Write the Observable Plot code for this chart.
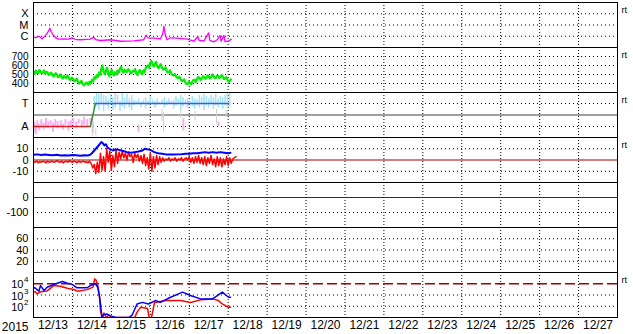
<!DOCTYPE html>
<html><head><meta charset="utf-8">
<script src="https://cdn.jsdelivr.net/npm/d3@7"></script>
<script src="https://cdn.jsdelivr.net/npm/@observablehq/plot@0.6"></script>
<style>
body{margin:0;background:#fff;}
#chart{position:relative;width:633px;height:334px;overflow:hidden;background:#fff;}
#chart svg{position:absolute;left:0;}
</style></head><body><div id="chart"></div>
<script>
// ---- time axis (days after 2015-12-13 00:00 UT) ----
const yearLabel = "2015";
const axisDays = d3.range(0, 15);            // 12/13 .. 12/27
const gridDays = d3.range(1, 15);            // midnight lines

// ---- panel 1: X-ray flux (W/m2) ----
const xrayDay  = [0,0.05,0.14,0.22,0.31,0.37,0.42,0.45,0.5,0.57,0.65,0.78,0.91,0.99,1.08,1.21,1.46,1.55,1.59,1.72,1.98,2.24,2.58,2.83,2.89,2.94,3.09,3.26,3.32,3.35,3.38,3.43,3.52,3.69,3.95,4.12,4.22,4.26,4.38,4.5,4.53,4.63,4.72,4.79,4.82,4.89,4.92,5.02,5.08];
const xrayFlux = [9.5e-7,7.3e-7,1.0e-6,5.9e-7,1.2e-6,2.3e-6,5.2e-6,2.8e-6,1.35e-6,7.3e-7,5.5e-7,5.9e-7,5.5e-7,7.3e-7,5.1e-7,4.9e-7,5.5e-7,8.3e-7,5.1e-7,4.2e-7,4.9e-7,3.6e-7,3.9e-7,4.9e-7,1.24e-6,7.3e-7,6.7e-7,5.9e-7,1.65e-6,7.4e-6,1.65e-6,4.9e-7,7.3e-7,6.7e-7,5.5e-7,3.6e-7,9.5e-7,4.2e-7,3.9e-7,2.0e-6,4.2e-7,3.2e-7,4.9e-7,1.2e-6,3.6e-7,1.2e-6,3.4e-7,3.9e-7,5.5e-7];
const xrayTicks = [1e-6, 1e-5, 1e-4];
const xrayLabels = ["C", "M", "X"];

// ---- panel 2: solar wind speed (km/s), 0.03-day cadence ----
const windStep = 0.03;
const windSpeed = [530,505,545,520,515,550,535,510,520,545,510,530,525,495,500,520,505,480,490,515,500,470,480,500,470,455,485,470,460,490,470,440,445,465,450,425,430,455,420,400,410,430,400,380,390,410,405,385,420,400,440,420,470,455,490,470,520,500,560,600,530,505,545,575,505,480,530,550,510,490,525,505,545,520,560,585,540,520,555,530,530,560,545,515,520,540,535,560,510,495,530,550,520,505,545,525,570,590,600,575,630,650,610,590,620,640,590,570,595,615,575,555,560,580,540,520,525,545,510,495,490,505,480,465,460,475,450,430,430,445,410,395,395,420,405,390,420,440,440,415,450,470,465,440,455,480,475,455,460,490,480,455,470,500,490,465,460,485,485,460,470,495,480,450,455,470,440,420,425,445];
const windTicks = [400, 500, 600, 700];

// ---- panel 3: IMF sector polarity ----
const polTicks = [1, -1];
const polLabels = ["T", "A"];
const polDay = [0, 1.46, 1.59, 5.01];
const polVal = [-1, -1, 1, 1];
const awayBars = [[0.02,-0.6,-1.5],[0.06,-0.9,-1.7],[0.1,-0.5,-1.2],[0.15,-0.8,-1.4],[0.2,-0.4,-1.0],[0.26,-0.7,-1.3],[0.32,-0.3,-1.1],[0.38,-0.6,-1.2],[0.44,-0.5,-0.9],[0.5,-0.7,-1.5],[0.56,-0.4,-1.0],[0.62,-0.6,-1.2],[0.7,-0.5,-1.1],[0.76,-0.8,-1.3],[0.82,-0.4,-0.9],[0.9,-0.6,-1.4],[0.96,-0.5,-1.0],[1.02,-0.3,-0.9],[1.1,-0.6,-1.2],[1.16,-0.4,-0.8],[1.24,-0.5,-1.1],[1.3,-0.2,-0.9],[1.38,-0.4,-1.0],[1.46,-0.3,-0.8],[1.52,-0.6,-1.6],[2.7,-0.9,-1.5],[3.85,-0.3,-1.4],[4.75,-0.6,-1.0]];
const towardBars = [[1.56,0.5,1.6],[1.62,0.7,1.9],[1.68,0.4,1.8],[1.74,0.9,1.9],[1.80,0.3,1.7],[1.86,0.8,1.6],[1.92,0.5,1.3],[1.98,1.1,1.8],[2.04,0.4,1.5],[2.10,0.6,1.9],[2.16,0.9,1.7],[2.22,0.3,1.2],[2.28,0.7,1.9],[2.34,0.5,1.5],[2.40,1.0,1.8],[2.46,0.6,1.4],[2.52,0.4,1.7],[2.58,0.8,1.3],[2.64,1.0,1.2],[2.70,0.9,1.4],[2.76,0.6,1.1],[2.82,1.0,1.3],[2.88,0.5,1.5],[2.94,0.8,1.2],[3.00,0.9,1.6],[3.06,1.0,1.3],[3.12,0.6,1.2],[3.18,0.8,1.4],[3.24,0.9,1.1],[3.30,1.0,1.3],[3.36,0.6,1.5],[3.42,0.8,1.2],[3.48,1.0,1.4],[3.54,0.9,1.2],[3.60,0.5,1.3],[3.66,0.8,1.6],[3.72,1.0,1.4],[3.78,0.4,1.7],[3.84,0.7,1.5],[3.90,1.0,1.3],[3.96,0.6,1.4],[4.02,0.9,1.2],[4.08,0.7,1.6],[4.14,0.5,1.4],[4.20,0.8,1.3],[4.26,0.6,1.7],[4.32,0.9,1.5],[4.38,0.4,1.8],[4.44,0.8,1.6],[4.50,0.6,1.4],[4.56,1.0,1.7],[4.62,0.5,1.5],[4.68,0.8,1.8],[4.74,0.6,1.4],[4.80,0.9,1.6],[4.86,0.5,1.5],[4.92,0.8,1.7],[4.98,0.6,1.9],[5.04,0.7,1.9]];
const mixedBars = [[1.52,-0.2,-1.9],[1.6,-1.2,-1.8],[2.0,-1.7,-1.9],[3.3,0.5,-0.6],[3.34,0.2,-1.5],[3.78,0.6,-0.3],[4.15,0.3,-0.5],[4.7,0.5,-0.8],[4.95,0.4,-0.2]];

// ---- panel 4: IMF Bt (blue) and Bz (red), nT ----
const btDay = [0,0.1,0.2,0.3,0.4,0.5,0.6,0.7,0.8,0.9,1.0,1.1,1.2,1.3,1.4,1.46,1.5,1.55,1.6,1.65,1.7,1.74,1.78,1.82,1.86,1.9,1.95,2.0,2.05,2.1,2.2,2.3,2.4,2.5,2.6,2.7,2.8,2.86,2.92,3.0,3.05,3.1,3.2,3.3,3.4,3.5,3.6,3.7,3.8,3.9,4.0,4.1,4.2,4.3,4.4,4.5,4.6,4.7,4.8,4.9,5.0,5.06];
const btVal = [4.6,5,4.4,4.8,4.5,4.2,4.6,4,4.3,4.1,4.5,4.2,3.8,4.2,4,4.8,6,8,10,12,14,16,15,13,14,11,10,9,8.5,9.5,9,8,7,6.5,7,7.5,8.5,10,9.5,9,8,7,6,5.5,5,5,4.8,5,5.2,5.5,5.5,6,6,6.5,7,6.5,7,6.5,7,6.5,6,6.5];
const bzStep = 0.04;
const bzVal = [-1.5,-2,-1,-2.5,-1.5,-2,-1,-1.5,-2.5,-1,-2,-1.5,-1,-2,-1.5,-0.5,-1.5,-2,-1,-2.5,-1.5,-1,-2,-0.5,-1.5,-2,-1,-1.5,-2.5,-1,-2,-1.5,-1,-2,-1.5,-2.5,-1,
  -3,-7,-4,-12,-2,-11,6,-9,3,-10,10,-2,8,-9,4,-6,9,-3,7,1,8,2,6,0,7,3,5,-2,6,2,5,-1,4,-3,5,-5,2,-8,6,-10,3,-7,4,-4,3,-2,2,-1,1,0,2,-1,1,0,2,-1,1,0,2,-1,1,2,0,3,-2,2,-3,3,-2,4,-3,2,-4,3,-5,2,-3,4,-4,1,-6,3,-5,2,-6,1,-4,3,-5,2,-3,1,2,3];
const bTicks = [10, 0, -10];

// ---- panel 5 / 6: empty panels ----
const dstTicks = [0, -100];
const p6Ticks = [60, 40, 20];

// ---- panel 7: electron flux (blue, red) ----
const eBlueDay  = [0,0.05,0.14,0.18,0.27,0.35,0.52,0.74,0.87,0.99,1.12,1.38,1.46,1.59,1.65,1.7,1.74,1.76,1.81,1.89,1.98,2.11,2.2,2.45,2.53,2.66,2.8,2.95,3.13,3.26,3.52,3.83,4.03,4.29,4.6,4.85,5.01,5.06];
const eBlueFlux = [4900,4000,2200,6900,2500,4900,8500,15800,11200,9000,4400,4400,6900,10000,4900,630,42,10,18,20,14,10,10,10,16,160,220,160,320,220,630,1800,900,450,450,1800,630,630];
const eRedDay  = [0,0.05,0.09,0.18,0.35,0.52,0.69,0.87,1.04,1.12,1.38,1.53,1.57,1.61,1.65,1.69,1.72,1.76,1.81,1.87,1.93,2.0,2.6,2.66,2.75,2.93,2.97,3.03,3.11,3.39,3.78,4.03,4.29,4.6,4.75,4.85,5.01,5.06];
const eRedFlux = [1800,2000,1260,1900,2300,6900,6000,4000,3100,2200,3000,5000,27000,20000,6900,900,42,10,25,10,16,10,10,30,80,63,10,10,220,320,320,220,370,450,320,160,80,80];
const eTicks = [1e4, 1e3, 1e2];
const eExp = ["4", "3", "2"];

// ---- rendering ----
const FONT = "'Liberation Sans Narrow','Arial Narrow','Liberation Sans',Arial,sans-serif";
const YFS = 11;
const start = Date.UTC(2015, 11, 13);
const t = d => new Date(start + d * 864e5);
const chart = document.getElementById("chart");
const DOT = "1,3";

function panel(i, y, marks, rt) {
  const last = i === 6;
  const extra = [];
  if (rt) extra.push(Plot.text(["rt"], {frameAnchor: "top-right", dx: 4, dy: 8, textAnchor: "start", lineAnchor: "middle", fontSize: 9, fill: "black"}));
  if (last) {
    extra.push(Plot.axisX(axisDays.map(d => t(d + 0.5)), {anchor: "bottom", label: null, tickSize: 0, tickPadding: 3, tickFormat: d3.utcFormat("%m/%d"), fontSize: 12}));
    extra.push(Plot.text([yearLabel], {frameAnchor: "bottom-left", dx: -5, dy: 10, textAnchor: "end", lineAnchor: "middle", fontSize: 12, fill: "black"}));
  }
  const p = Plot.plot({
    width: 633, height: last ? 63 : 47,
    marginLeft: 33, marginRight: 16, marginTop: 1, marginBottom: last ? 17 : 1,
    style: {fontFamily: FONT, fontSize: "12px", background: "transparent", overflow: "visible", color: "black"},
    x: last ? {type: "utc", domain: [t(0), t(15)], label: null} : {type: "utc", domain: [t(0), t(15)], axis: null},
    y: {...y, label: null},
    marks: [Plot.ruleX(gridDays.map(t), {stroke: "black", strokeDasharray: "1,2"}), ...marks, Plot.frame({stroke: "black"}), ...extra]
  });
  p.style.top = (1 + 45 * i) + "px";
  chart.append(p);
}

const yAxis = (ticks, fmt, fs = YFS) => Plot.axisY(ticks, {anchor: "left", label: null, tickSize: 0, tickPadding: 5, tickFormat: fmt, fontSize: fs});
const dotted = ticks => Plot.ruleY(ticks, {stroke: "black", strokeDasharray: DOT});

// Panel 1
panel(0, {type: "log", domain: [1e-7, 1e-3]}, [
  dotted(xrayTicks),
  Plot.line(xrayDay.map((d, k) => ({t: t(d), v: xrayFlux[k]})), {x: "t", y: "v", stroke: "#ff00ff", strokeWidth: 1.3, clip: true}),
  yAxis(xrayTicks, d => xrayLabels[xrayTicks.indexOf(d)])
], true);

// Panel 2
panel(1, {domain: [300, 800]}, [
  dotted(windTicks),
  Plot.line(windSpeed.map((v, k) => ({t: t(k * windStep), v})), {x: "t", y: "v", stroke: "#00ee00", strokeWidth: 2.2, clip: true}),
  yAxis(windTicks, d => String(d), 10)
], true);

// Panel 3
const polSeg = polDay.slice(1).flatMap((d, k) => [
  {t: t(polDay[k]), v: polVal[k], s: k}, {t: t(d), v: polVal[k + 1], s: k}
]);
panel(2, {domain: [-1.96, 1.96]}, [
  dotted(polTicks),
  Plot.ruleY([0], {stroke: "#808080", strokeWidth: 1.5}),
  Plot.ruleX(awayBars, {x: d => t(d[0]), y1: d => d[1], y2: d => d[2], stroke: "#f4b0ee", strokeWidth: 2, clip: true}),
  Plot.ruleX(mixedBars, {x: d => t(d[0]), y1: d => d[1], y2: d => d[2], stroke: "#d0d0d0", strokeWidth: 1, clip: true}),
  Plot.ruleX(towardBars, {x: d => t(d[0]), y1: d => d[1], y2: d => d[2], stroke: "#a4e2f6", strokeWidth: 1.6, clip: true}),
  Plot.line(polSeg, {x: "t", y: "v", z: "s", stroke: d => ["#e02020", "#3a8a3a", "#3a5cf0"][d.s], strokeWidth: 1.5}),
  yAxis(polTicks, d => polLabels[polTicks.indexOf(d)])
], true);

// Panel 4
panel(3, {domain: [-20, 20]}, [
  Plot.ruleY([10, -10], {stroke: "black", strokeDasharray: DOT}),
  Plot.ruleY([0], {stroke: "#a00000", strokeWidth: 1.2}),
  Plot.line(bzVal.map((v, k) => ({t: t(k * bzStep), v})), {x: "t", y: "v", stroke: "#ff0000", strokeWidth: 1.5, clip: true}),
  Plot.line(btDay.map((d, k) => ({t: t(d), v: btVal[k]})), {x: "t", y: "v", stroke: "#0000ff", strokeWidth: 2, clip: true}),
  yAxis(bTicks, d => String(d))
], true);

// Panel 5
panel(4, {domain: [-200, 100]}, [
  Plot.ruleY([-100], {stroke: "black", strokeDasharray: DOT}),
  Plot.ruleY([0], {stroke: "#a00000", strokeWidth: 1.2}),
  yAxis(dstTicks, d => String(d))
], false);

// Panel 6
panel(5, {domain: [0, 80]}, [
  dotted(p6Ticks),
  yAxis(p6Ticks, d => String(d))
], false);

// Panel 7
panel(6, {type: "log", domain: [10, 1e5], axis: null}, [
  Plot.ruleY([1e3, 1e2], {stroke: "black", strokeDasharray: DOT}),
  Plot.ruleY([1e4], {stroke: "#a00000", strokeWidth: 1.3, strokeDasharray: "10,4"}),
  Plot.line(eRedDay.map((d, k) => ({t: t(d), v: eRedFlux[k]})), {x: "t", y: "v", stroke: "#ff0000", strokeWidth: 1.5, clip: true}),
  Plot.line(eBlueDay.map((d, k) => ({t: t(d), v: eBlueFlux[k]})), {x: "t", y: "v", stroke: "#0000ff", strokeWidth: 1.5, clip: true}),
  Plot.text(eTicks, {frameAnchor: "left", y: d => d, text: () => "10", dx: -10, textAnchor: "end", lineAnchor: "middle", fontSize: YFS, fill: "black", dy: 1}),
  Plot.text(eTicks, {frameAnchor: "left", y: d => d, text: (d, k) => eExp[k], dx: -5, textAnchor: "end", lineAnchor: "middle", fontSize: 8, fill: "black", dy: -4})
], true);
</script></body></html>
